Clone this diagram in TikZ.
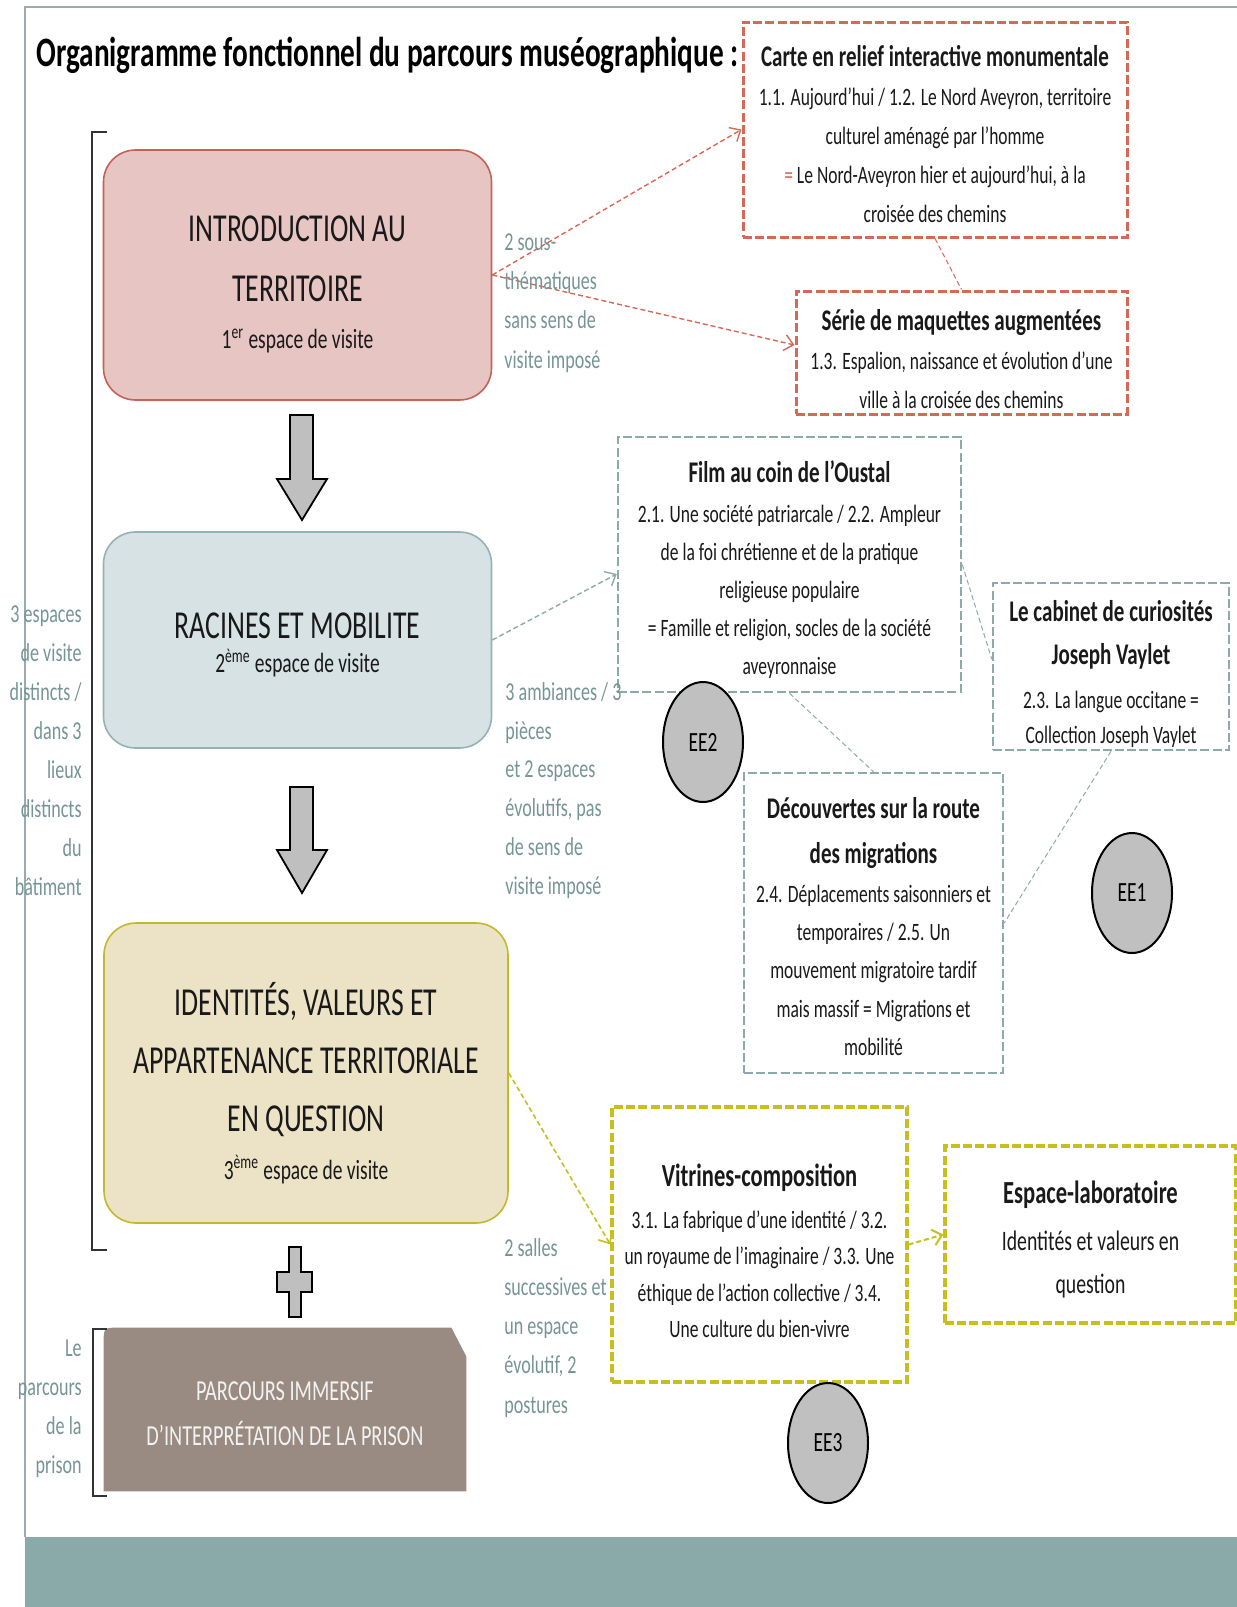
\documentclass[tikz,border=0pt]{standalone}
\usepackage{fontspec}
\setmainfont{Carlito}[FakeStretch=0.70]
\usetikzlibrary{arrows.meta}
\usetikzlibrary{shapes.geometric}

\definecolor{framegrey}{RGB}{152,172,174}
\definecolor{bandteal}{RGB}{138,170,170}
\definecolor{notegrey}{RGB}{118,148,150}
\definecolor{introfill}{RGB}{230,197,195}
\definecolor{introline}{RGB}{196,98,88}
\definecolor{racinesfill}{RGB}{214,226,228}
\definecolor{racinesline}{RGB}{150,178,180}
\definecolor{identfill}{RGB}{236,226,198}
\definecolor{identline}{RGB}{196,184,48}
\definecolor{prisonbrown}{RGB}{153,139,130}
\definecolor{redline}{RGB}{214,104,88}
\definecolor{tealline}{RGB}{140,170,172}
\definecolor{yellowline}{RGB}{200,190,30}
\definecolor{eegrey}{RGB}{192,192,192}
\definecolor{arrowgrey}{RGB}{191,191,191}

\newcommand{\boxhead}{\fontsize{15}{17}\selectfont\bfseries}
\newcommand{\boxheadbig}{\fontsize{16.1}{18}\selectfont\bfseries}
\newcommand{\subline}{\fontsize{13.9}{16}\selectfont}

\begin{document}
\begin{tikzpicture}[x=0.5pt, y=-0.5pt,
	mainbox/.style={rectangle, rounded corners=16pt, line width=0.8pt, inner sep=0pt},
	dashbox/.style={rectangle, line width=1.5pt, dash pattern=on 4.5pt off 1.6pt, inner sep=0pt},
	boxtext/.style={inner sep=0pt, align=center, anchor=north, text=black!90},
	notetext/.style={inner sep=0pt, text=notegrey},
	link/.style={line width=0.7pt, dash pattern=on 2.5pt off 1.5pt},
	linkarrow/.style={link, ->, >={Straight Barb[length=4.5pt, width=8pt]}},
	eebubble/.style={ellipse, draw=black, line width=1pt, fill=eegrey, minimum width=40pt, minimum height=60pt, inner sep=0pt, font=\fontsize{13.9}{15}\selectfont},
	flowarrow/.style={fill=arrowgrey, draw=black, line width=0.9pt, line join=miter},
	bracketline/.style={line width=1pt, black!80}
]
	\useasboundingbox (0,0) rectangle (1237,1607);

	% slide frame and footer band
	\draw[framegrey, line width=0.8pt] (25,1537) -- (25,7) -- (1237,7);
	\fill[bandteal] (25,1537) rectangle (1237,1607);

	% title
	\node[inner sep=0pt, anchor=base west, font=\fontsize{20.9}{23}\selectfont\bfseries] (title) at (36,66) {Organigramme fonctionnel du parcours muséographique :};

	% the three visit spaces and the prison
	\node[mainbox, fill=introfill, draw=introline, minimum width=194pt, minimum height=125pt] (intro) at (297.5,275) {};
	\node[mainbox, fill=racinesfill, draw=racinesline, minimum width=194pt, minimum height=108pt] (racines) at (297.5,640) {};
	\node[mainbox, fill=identfill, draw=identline, minimum width=202pt, minimum height=150pt] (ident) at (306,1073) {};
	\node[inner sep=0pt, minimum width=181pt, minimum height=81.5pt] (prison) at (285,1409.5) {};
	\fill[prisonbrown] (prison.south west) -- ([yshift=-8pt]prison.north west) .. controls (prison.north west) .. ([xshift=8pt]prison.north west) -- ([xshift=-7.5pt]prison.north east) -- ([yshift=-14.5pt]prison.north east) -- (prison.south east) -- cycle;

	\node[boxtext, font=\fontsize{19.8}{30}\selectfont] (introtxt) at (297.5,215.8) {INTRODUCTION AU\\TERRITOIRE\\[-6.5pt]{\subline 1\textsuperscript{er} espace de visite}};
	\node[boxtext, font=\fontsize{19.8}{30}\selectfont] (racinestxt) at (297.5,612.8) {RACINES ET MOBILITE\\[-13pt]{\subline 2\textsuperscript{ème} espace de visite}};
	\node[boxtext, font=\fontsize{19.8}{29}\selectfont] (identtxt) at (306,981.7) {IDENTITÉS, VALEURS ET\\APPARTENANCE TERRITORIALE\\EN QUESTION\\[-5pt]{\subline 3\textsuperscript{ème} espace de visite}};
	\node[boxtext, text=white!95!black, font=\fontsize{14.5}{22.5}\selectfont] (prisontxt) at (285,1381.7) {PARCOURS IMMERSIF\\D’INTERPRÉTATION DE LA PRISON};

	% flow between the spaces
	\foreach \top/\neck/\tip in {415/479/520, 787/850/893} {
		\filldraw[flowarrow] (290,\top) -- (313,\top) -- (313,\neck) -- (327,\neck) -- (302,\tip) -- (277,\neck) -- (290,\neck) -- cycle;
	}
	\filldraw[flowarrow] (289,1247) -- (301,1247) -- (301,1272) -- (312,1272) -- (312,1292) -- (301,1292) -- (301,1317) -- (289,1317) -- (289,1292) -- (277,1292) -- (277,1272) -- (289,1272) -- cycle;

	% brackets and their notes on the left
	\draw[bracketline] (107,132) -- (92,132) -- (92,1250) -- (107,1250);
	\draw[bracketline] (107,1329) -- (93,1329) -- (93,1496) -- (107,1496);
	\node[notetext, anchor=north east, align=right, font=\fontsize{12.9}{19.55}\selectfont] (espacesnote) at (82,605) {3 espaces\\de visite\\distincts /\\dans 3\\lieux\\distincts\\du\\bâtiment};
	\node[notetext, anchor=north east, align=right, font=\fontsize{12.9}{19.4}\selectfont] (prisonnote) at (82,1340) {Le\\parcours\\de la\\prison};

	% space 1: red boxes
	\node[dashbox, draw=redline, minimum width=192pt, minimum height=107.5pt] (carte) at (935,129.5) {};
	\node[dashbox, draw=redline, minimum width=165.5pt, minimum height=61.5pt] (serie) at (961.5,352.5) {};
	\node[boxtext, font=\fontsize{12.5}{19.5}\selectfont] (cartetxt) at (935,45) {{\boxhead Carte en relief interactive monumentale}\\1.1. Aujourd’hui / 1.2. Le Nord Aveyron, territoire\\culturel aménagé par l’homme\\{\color{redline}=} Le Nord-Aveyron hier et aujourd’hui, à la\\croisée des chemins};
	\node[boxtext, font=\fontsize{12.5}{19.5}\selectfont] (serietxt) at (961.5,309) {{\boxhead Série de maquettes augmentées}\\1.3. Espalion, naissance et évolution d’une\\ville à la croisée des chemins};
	\draw[linkarrow, redline] (intro.east) -- (carte.west);
	\draw[linkarrow, redline] (intro.east) -- ([yshift=3.75pt]serie.west);
	\draw[link, redline, line width=0.5pt] (carte.south) -- (serie.north);
	\node[notetext, anchor=north west, align=left, font=\fontsize{12.9}{19.65}\selectfont] (sousnote) at (504,233) {2 sous-\\thématiques\\sans sens de\\visite imposé};

	% space 2: teal boxes
	\node[dashbox, draw=tealline, line width=1.25pt, minimum width=171.5pt, minimum height=127.5pt] (film) at (789.5,564.5) {};
	\node[dashbox, draw=tealline, line width=1.25pt, minimum width=118pt, minimum height=83.5pt] (cabinet) at (1111,666.5) {};
	\node[dashbox, draw=tealline, line width=1.25pt, minimum width=129.5pt, minimum height=150pt] (decouv) at (873.5,923) {};
	\node[boxtext, font=\fontsize{12.5}{19}\selectfont] (filmtxt) at (789.5,460) {{\boxhead Film au coin de l’Oustal}\\[1pt]2.1. Une société patriarcale / 2.2. Ampleur\\de la foi chrétienne et de la pratique\\religieuse populaire\\= Famille et religion, socles de la société\\aveyronnaise};
	\node[boxtext, font=\fontsize{12.5}{17.5}\selectfont] (cabinettxt) at (1111,600) {{\boxhead Le cabinet de curiosités}\\[4pt]{\boxhead Joseph Vaylet}\\[4.5pt]2.3. La langue occitane =\\Collection Joseph Vaylet};
	\node[boxtext, font=\fontsize{12.5}{19.2}\selectfont] (decouvtxt) at (873.5,796.7) {{\boxhead Découvertes sur la route}\\[3.3pt]{\boxhead des migrations}\\[0.3pt]2.4. Déplacements saisonniers et\\temporaires / 2.5. Un\\mouvement migratoire tardif\\mais massif = Migrations et\\mobilité};
	\draw[linkarrow, tealline] (racines.east) -- ([yshift=-4.75pt]film.west);
	\draw[link, tealline, line width=0.5pt] (film.east) -- ([yshift=3.75pt]cabinet.west);
	\draw[link, tealline, line width=0.5pt] (film.south) -- (decouv.north);
	\draw[link, tealline, line width=0.5pt] (cabinet.south) -- (decouv.east);
	\node[notetext, anchor=north west, align=left, font=\fontsize{12.9}{19.4}\selectfont] (ambnote) at (505,682) {3 ambiances / 3\\pièces\\et 2 espaces\\évolutifs, pas\\de sens de\\visite imposé};

	% space 3: yellow boxes
	\node[dashbox, draw=yellowline, line width=1.6pt, minimum width=147.5pt, minimum height=137.5pt] (vitrines) at (759.5,1244.5) {};
	\node[dashbox, draw=yellowline, line width=1.6pt, minimum width=145.5pt, minimum height=88.5pt] (espace) at (1090.5,1234.5) {};
	\node[boxtext, font=\fontsize{12.5}{18.3}\selectfont] (vitrinestxt) at (759.5,1163) {{\boxheadbig Vitrines-composition}\\[2.7pt]3.1. La fabrique d’une identité / 3.2.\\un royaume de l’imaginaire / 3.3. Une\\éthique de l’action collective / 3.4.\\Une culture du bien-vivre};
	\node[boxtext, font=\fontsize{14.1}{21.5}\selectfont] (espacetxt) at (1090.5,1180) {{\boxheadbig Espace-laboratoire}\\[2pt]Identités et valeurs en\\question};
	\draw[linkarrow, yellowline, line width=0.8pt] (ident.east) -- (vitrines.west);
	\draw[linkarrow, yellowline, line width=1pt] (vitrines.east) -- (espace.west);
	\node[notetext, anchor=north west, align=left, font=\fontsize{12.9}{19.6}\selectfont] (sallesnote) at (504,1238) {2 salles\\successives et\\un espace\\évolutif, 2\\postures};

	% evolutive spaces
	\node[eebubble] (ee1) at (1132,893) {EE1};
	\node[eebubble] (ee2) at (703,742) {EE2};
	\node[eebubble] (ee3) at (828,1443) {EE3};
\end{tikzpicture}
\end{document}
